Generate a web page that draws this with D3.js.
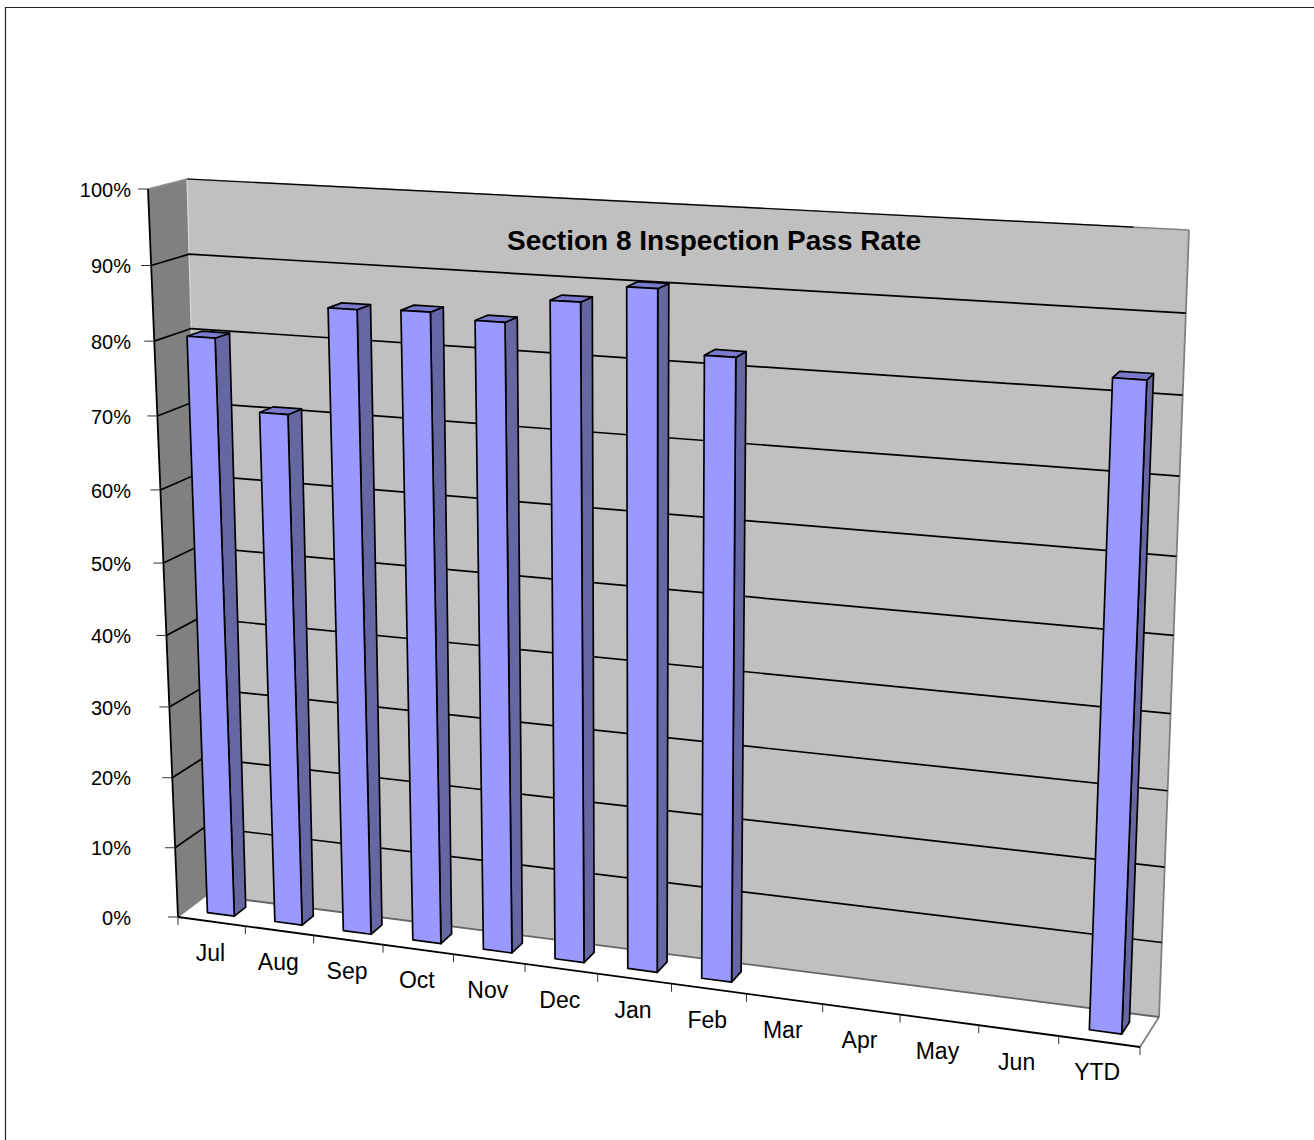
<!DOCTYPE html>
<html>
<head>
<meta charset="utf-8">
<style>
  html, body { margin: 0; padding: 0; background: #fff; }
  svg { display: block; }
  text { font-family: "Liberation Sans", Arial, sans-serif; fill: #000; }
</style>
<script src="https://cdn.jsdelivr.net/npm/d3@7/dist/d3.min.js"></script>
</head>
<body>
<svg id="chart" width="1314" height="1140"></svg>
<script>
// Monthly pass rates, percent; months with no inspections yet stay empty.
const categories = ["Jul","Aug","Sep","Oct","Nov","Dec","Jan","Feb","Mar","Apr","May","Jun","YTD"];
const passRates  = [80.3, 70.8, 85.3, 85.6, 84.9, 88.1, 90.4, 82.4, null, null, null, null, 83];
const valueTicks = [0, 10, 20, 30, 40, 50, 60, 70, 80, 90, 100];
const chartTitle = "Section 8 Inspection Pass Rate";

// Screen anchors of the plot box corners: [x, y, z] in unit-cube space, then pixels.
const boxAnchors = [
  [[0,1,0],[148,189]], [[0,0,1],[207,895]], [[0,1,1],[187,179]],
  [[1,0,1],[1159,1017]], [[1,1,1],[1189,230]], [[1,0,0],[1140,1047]]
];
const boxOrigin = [178, 917];

// Fits a perspective camera to the anchors by least squares (normal equations).
function fitCamera(anchors, o) {
  const rows = [], rhs = [];
  anchors.forEach(([[x,y,z],[u,v]]) => {
    rows.push([x,y,z,0,0,0,-(u)*x,-(u)*y,-(u)*z]); rhs.push(u - o[0]);
    rows.push([0,0,0,x,y,z,-(v)*x,-(v)*y,-(v)*z]); rhs.push(v - o[1]);
  });
  const n = 9;
  const M = d3.range(n).map(i => d3.range(n + 1).map(j =>
    j < n ? d3.sum(rows, r => r[i] * r[j]) : d3.sum(rows, (r, k) => r[i] * rhs[k])));
  for (let c = 0; c < n; c++) {
    let p = c;
    for (let r = c + 1; r < n; r++) if (Math.abs(M[r][c]) > Math.abs(M[p][c])) p = r;
    [M[c], M[p]] = [M[p], M[c]];
    for (let r = 0; r < n; r++) {
      if (r === c) continue;
      const f = M[r][c] / M[c][c];
      for (let k = c; k <= n; k++) M[r][k] -= f * M[c][k];
    }
  }
  return M.map((row, i) => row[n] / row[i]);
}
const cam = fitCamera(boxAnchors, boxOrigin);
const perspective = (x, y, z) => {
  const w = 1 + cam[6]*x + cam[7]*y + cam[8]*z;
  return [
    (boxOrigin[0] + cam[0]*x + cam[1]*y + cam[2]*z) / w,
    (boxOrigin[1] + cam[3]*x + cam[4]*y + cam[5]*z) / w
  ];
};

// The fit leaves small errors at the corners; spread them through the box so corners land exactly.
const cornerFix = boxAnchors.map(([[x,y,z],[u,v]]) => {
  const [px, py] = perspective(x, y, z);
  return { x, y, z, dx: u - px, dy: v - py };
});
cornerFix.push({ x: 1, y: 1, z: 0, dx: 2, dy: 0 });
const project = (x, y, z) => {
  const [px, py] = perspective(x, y, z);
  let dx = 0, dy = 0;
  cornerFix.forEach(c => {
    const k = (c.x ? x : 1 - x) * (c.y ? y : 1 - y) * (c.z ? z : 1 - z);
    dx += k * c.dx; dy += k * c.dy;
  });
  return [px + dx, py + dy];
};

const xBand = d3.scaleBand().domain(categories).range([0, 1]).paddingInner(0.6).paddingOuter(0.3);
const step = xBand.step();
const slotEdge = i => i * step;
const yScale = d3.scaleLinear().domain([0, 100]).range([0, 1]);
const depthFront = 0.32, depthBack = 0.72;

const svg = d3.select("#chart");
const line = d3.line();
const closed = pts => line(pts) + "Z";

// Page frame, open on the right and bottom
svg.append("path").attr("d", "M5.5,1140V7.5H1314").attr("fill", "none").attr("stroke", "#222").attr("stroke-width", 1.2);

// Walls and floor
svg.append("path").attr("d", closed([project(0,0,0), project(1,0,0), project(1,0,1), project(0,0,1)])).attr("fill", "#fff");
svg.append("path").attr("d", closed([project(0,0,0), project(0,1,0), project(0,1,1), project(0,0,1)])).attr("fill", "#808080");
svg.append("path").attr("d", closed([project(0,0,1), project(0,1,1), project(1,1,1), project(1,0,1)])).attr("fill", "#c0c0c0");

const edge = (a, b, color, width) => svg.append("path")
  .attr("d", line([a, b])).attr("fill", "none").attr("stroke", color).attr("stroke-width", width);

// Grey outlines of the box
edge(project(0,1,1), project(1,1,1), "#808080", 1.6);
edge(project(1,1,1), project(1,0,1), "#808080", 1.8);
edge(project(1,0,1), project(1,0,0), "#808080", 1.8);
edge(project(0,0,1), project(1,0,1), "#666", 1.8);
edge(project(0,0,1), project(0,1,1), "#d8d8d8", 1.2);
edge(project(0,1,0), project(0,1,1), "#909090", 1.4);
edge(project(0,0,0), project(0,0,1), "#808080", 1.2);

// Gridlines across the side wall and back wall; the top one only follows the back wall edge
valueTicks.filter(v => v > 0).forEach(v => {
  const t = yScale(v);
  const pts = v === 100
    ? [project(0,t,1), project(0.95,t,1)]
    : [project(0,t,0), project(0,t,1), project(1,t,1)];
  svg.append("path")
    .attr("class", "grid")
    .attr("d", line(pts))
    .attr("fill", "none").attr("stroke", "#000").attr("stroke-width", v === 100 ? 1.2 : 1.7);
});

// Axis lines and tick marks
edge(project(0,0,0), project(0,1,0), "#000", 1.8);
edge(project(0,0,0), project(1,0,0), "#000", 1.8);
valueTicks.forEach(v => {
  const [px, py] = project(0, yScale(v), 0);
  edge([px - 10, py], [px, py], "#333", 1);
  svg.append("text").attr("x", 131).attr("y", py + 0.6)
    .attr("text-anchor", "end").attr("dominant-baseline", "central")
    .attr("font-size", 20).text(v + "%");
});
categories.forEach((c, i) => {
  const [px, py] = project(slotEdge(i + 1), 0, 0);
  edge([px, py], [px, py + 8], "#333", 1);
  if (i === 0) { const [qx, qy] = project(0, 0, 0); edge([qx, qy], [qx, qy + 8], "#333", 1); }
  const [mx, my] = project(xBand(c) + xBand.bandwidth() / 2, 0, 0);
  svg.append("text").attr("x", mx - 1 - i / 12).attr("y", my + 31)
    .attr("text-anchor", "middle").attr("dominant-baseline", "central")
    .attr("font-size", 23).text(c);
});

// Bars: front, right side and top faces
const bars = categories.map((c, i) => ({ c, v: passRates[i] })).filter(d => d.v !== null);
const barGroups = svg.selectAll("g.bar").data(bars).join("g").attr("class", "bar")
  .attr("stroke", "#000").attr("stroke-width", 1.7).attr("stroke-linejoin", "round");
barGroups.append("path").attr("fill", "#6666a3").attr("d", d => {
  const x1 = xBand(d.c) + xBand.bandwidth(), t = yScale(d.v);
  return closed([project(x1,0,depthFront), project(x1,t,depthFront), project(x1,t,depthBack), project(x1,0,depthBack)]);
});
barGroups.append("path").attr("fill", "#7a7acc").attr("d", d => {
  const x0 = xBand(d.c), x1 = x0 + xBand.bandwidth(), t = yScale(d.v);
  return closed([project(x0,t,depthFront), project(x1,t,depthFront), project(x1,t,depthBack), project(x0,t,depthBack)]);
});
barGroups.append("path").attr("fill", "#9999ff").attr("d", d => {
  const x0 = xBand(d.c), x1 = x0 + xBand.bandwidth(), t = yScale(d.v);
  return closed([project(x0,0,depthFront), project(x1,0,depthFront), project(x1,t,depthFront), project(x0,t,depthFront)]);
});

// Title sits on the back wall
svg.append("text").attr("x", 714).attr("y", 240)
  .attr("text-anchor", "middle").attr("dominant-baseline", "central")
  .attr("font-size", 28).attr("font-weight", "bold").text(chartTitle);
</script>
</body>
</html>
